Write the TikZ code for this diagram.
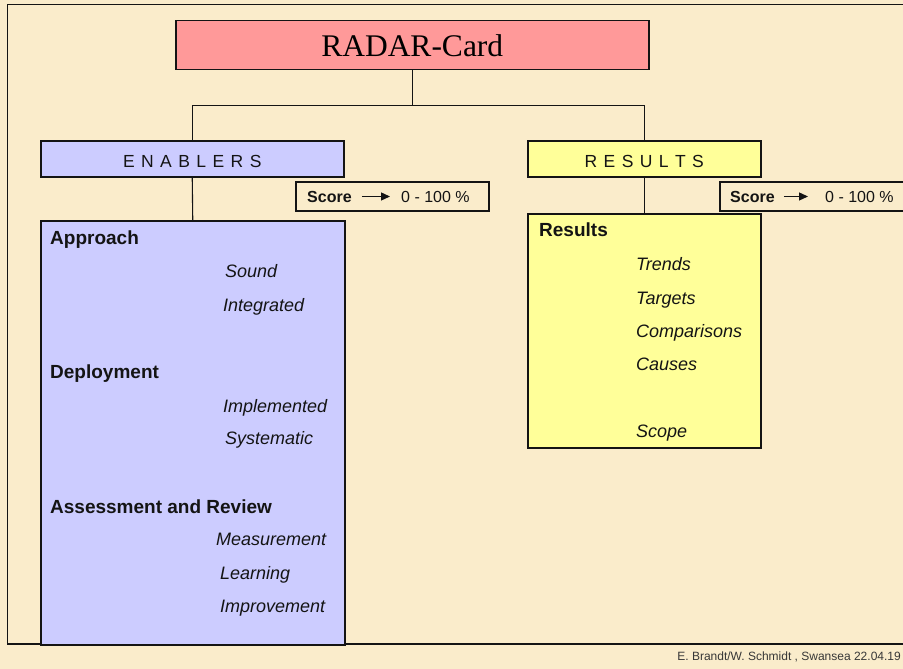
\documentclass[tikz,border=0pt]{standalone}
\usepackage{fontspec}
\setmainfont{Liberation Sans}
\newfontfamily\titlefont{Liberation Serif}
\newfontfamily\spacedfont[LetterSpace=9]{Liberation Sans}
\usetikzlibrary{arrows.meta}

\definecolor{paper}{RGB}{250,236,203}
\definecolor{pinkfill}{RGB}{255,153,153}
\definecolor{bluefill}{RGB}{204,204,255}
\definecolor{yellowfill}{RGB}{255,255,153}
\definecolor{ink}{RGB}{20,20,20}

\begin{document}
\begin{tikzpicture}[x=1pt,y=-1pt,
  box/.style={draw=ink, line width=1.5pt, rectangle, inner sep=0pt, anchor=north west},
  heading/.style={font=\spacedfont\fontsize{17.5}{20}\selectfont, text=ink,
                  text height=18pt, text depth=0pt},
  label/.style={anchor=base west, inner sep=0pt, text=ink,
                font=\fontsize{19}{22}\selectfont\bfseries},
  item/.style={anchor=base west, inner sep=0pt, text=ink,
               font=\fontsize{18}{21}\selectfont\itshape},
  scorelabel/.style={anchor=base west, inner sep=0pt, text=ink,
                     font=\fontsize{16}{18}\selectfont\bfseries},
  scorevalue/.style={anchor=base west, inner sep=0pt, text=ink,
                     font=\fontsize{16}{18}\selectfont},
  scorearrow/.style={draw=ink, line width=1.3pt,
                     -{Triangle[length=9pt,width=8pt]}},
  link/.style={draw=ink, line width=1.1pt},
  frame/.style={draw=ink, line width=1.8pt}]

\useasboundingbox (0,0) rectangle (903,669);
\clip (0,0) rectangle (903,669);
\fill[paper] (0,0) rectangle (903,669);

% slide frame
\draw[frame] (903,4.5) -- (7.5,4.5) -- (7.5,644) -- (903,644);

% top of the tree
\node[box, fill=pinkfill, minimum width=473pt, minimum height=49pt,
      font=\titlefont\fontsize{31.5}{35}\selectfont] (title) at (175,20) {RADAR-Card};

% the two branches
\node[box, fill=bluefill, minimum width=303pt, minimum height=36pt, heading]
     (enab) at (40,140) {E N A B L E R S};
\node[box, fill=yellowfill, minimum width=233pt, minimum height=36pt, heading]
     (res) at (527,140) {R E S U L T S};

\path (title.south) ++(0,35) coordinate (hub);
\draw[link] (title.south) -- (hub);
\draw[link] (enab.north) |- (hub) -| (res.north);

% detail boxes
\node[box, fill=bluefill, minimum width=304pt, minimum height=424pt] (enabd) at (40,220) {};
\node[box, fill=yellowfill, minimum width=233pt, minimum height=234pt] (resd) at (527,213) {};
\draw[link] (enab.south) -- (enabd.north);
\draw[link] (res.south) -- (resd.north);

% score boxes
\node[box, fill=paper, minimum width=193pt, minimum height=29pt] (scoreL) at (295,181) {};
\node[scorelabel] (sL) at (307,202) {Score};
\node[scorevalue] (vL) at (401,202) {0 - 100 \%};
\draw[scorearrow] ([xshift=10pt]sL.east) -- ([xshift=-11pt]vL.west);

\node[box, fill=paper, minimum width=200pt, minimum height=29pt] (scoreR) at (719,181) {};
\node[scorelabel] (sR) at (730,202) {Score};
\node[scorevalue] (vR) at (825,202) {0 - 100 \%};
\draw[scorearrow] ([xshift=9pt]sR.east) -- ([xshift=-17pt]vR.west);

% enablers contents
\node[label] (appr) at (50,244) {Approach};
\node[item]  (sound) at (225,277) {Sound};
\node[item]  (integ) at (223,311) {Integrated};
\node[label] (depl) at (50,378) {Deployment};
\node[item]  (impl) at (223,412) {Implemented};
\node[item]  (syst) at (225,444) {Systematic};
\node[label] (assm) at (50,513) {Assessment and Review};
\node[item]  (meas) at (216,545) {Measurement};
\node[item]  (learn) at (220,579) {Learning};
\node[item]  (impr) at (220,612) {Improvement};

% results contents
\node[label] (resl) at (539,236) {Results};
\node[item]  (trend) at (636,270) {Trends};
\node[item]  (targ) at (636,304) {Targets};
\node[item]  (comp) at (636,337) {Comparisons};
\node[item]  (caus) at (636,370) {Causes};
\node[item]  (scope) at (636,437) {Scope};

% footer
\node[anchor=base east, inner sep=0pt, text=ink!85, font=\fontsize{12}{14}\selectfont]
     (foot) at (901,660) {E. Brandt/W. Schmidt , Swansea 22.04.19};
\end{tikzpicture}
\end{document}
